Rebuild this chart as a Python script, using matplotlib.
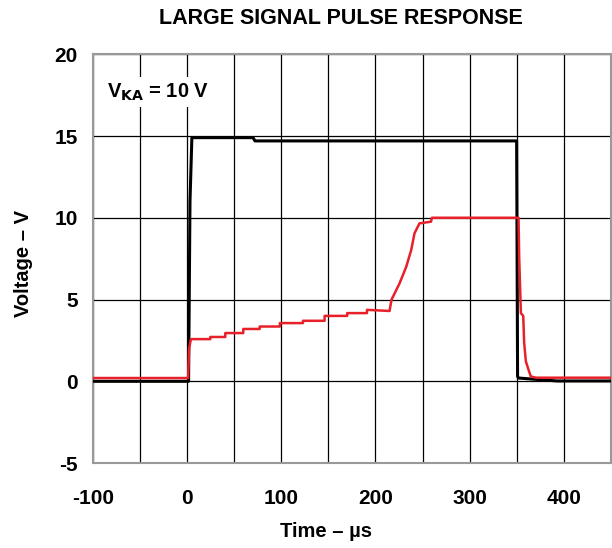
import numpy as np
import matplotlib.pyplot as plt

plt.rcParams['font.family'] = ['Liberation Sans', 'DejaVu Sans']
plt.rcParams['axes.unicode_minus'] = False

# input pulse (black)
t_in = [-100, 1.5, 3, 5, 70, 72, 350, 351, 352, 375, 393, 450]
v_in = [0.0, 0.0, 11.0, 14.9, 14.9, 14.7, 14.7, 0.3, 0.2, 0.1, 0.02, 0.02]

# output (red), staircase ramp then slew to 10 V
t_out = [-100, 1, 2, 4, 24.6, 24.6, 40.5, 40.5, 59.6, 59.6, 77, 77, 98.5, 98.5,
         123, 123, 146, 146, 170, 170, 191, 191, 215, 217, 225.7, 232.7, 238,
         241.5, 246.8, 259, 260, 352, 352.7, 354.5, 357, 358, 359.8, 362.6,
         365, 370.4, 450]
v_out = [0.2, 0.2, 2.0, 2.58, 2.58, 2.71, 2.71, 2.95, 2.95, 3.2, 3.2, 3.35, 3.35, 3.56,
         3.56, 3.7, 3.7, 4.0, 4.0, 4.17, 4.17, 4.37, 4.3, 4.98, 6.0, 7.0, 8.03,
         9.05, 9.66, 9.76, 10.0, 10.0, 7.6, 4.17, 4.0, 2.34, 1.22, 0.71,
         0.3, 0.22, 0.22]

x_ticks = np.arange(-100, 451, 50)
x_labels = ['-100', '', '0', '', '100', '', '200', '', '300', '', '400', '']
y_ticks = [-5, 0, 5, 10, 15, 20]

fig = plt.figure(figsize=(6.12, 5.48), dpi=100)
ax = fig.add_axes([0.152, 0.155, 0.846, 0.746])

ax.plot(t_in, v_in, color='black', lw=2.2, zorder=3)
ax.plot(t_out, v_out, color='#e8202a', lw=1.8, zorder=4)

ax.set_xlim(-100, 450)
ax.set_ylim(-5, 20)
ax.set_xticks(x_ticks)
ax.set_xticklabels(x_labels)
ax.set_yticks(y_ticks)
ax.tick_params(length=0, labelsize=15)
ax.tick_params(axis='x', pad=19)
ax.tick_params(axis='y', pad=11)
for lbl in ax.get_xticklabels() + ax.get_yticklabels():
    lbl.set_fontweight('bold')
ax.grid(True, color='black', lw=0.9)
ax.set_axisbelow(True)
for s in ax.spines.values():
    s.set_color('#999999')
    s.set_linewidth(1.5)

ax.set_xlabel('Time – µs', fontsize=14.5, fontweight='bold')
ax.xaxis.set_label_coords(0.45, -0.143)
ax.set_ylabel('Voltage – V', fontsize=14.5, fontweight='bold')
ax.yaxis.set_label_coords(-0.115, 0.487)
fig.suptitle('LARGE SIGNAL PULSE RESPONSE', fontsize=15.5, fontweight='bold',
             x=0.557, y=0.966, va='center')

ax.text(-85, 17.7, r'V$_{\mathbf{KA}}$ = 10 V', fontsize=14.5, fontweight='bold',
        ha='left', va='center', zorder=5,
        bbox=dict(facecolor='white', edgecolor='none', pad=3))

fig.savefig('out.png', dpi=100)
